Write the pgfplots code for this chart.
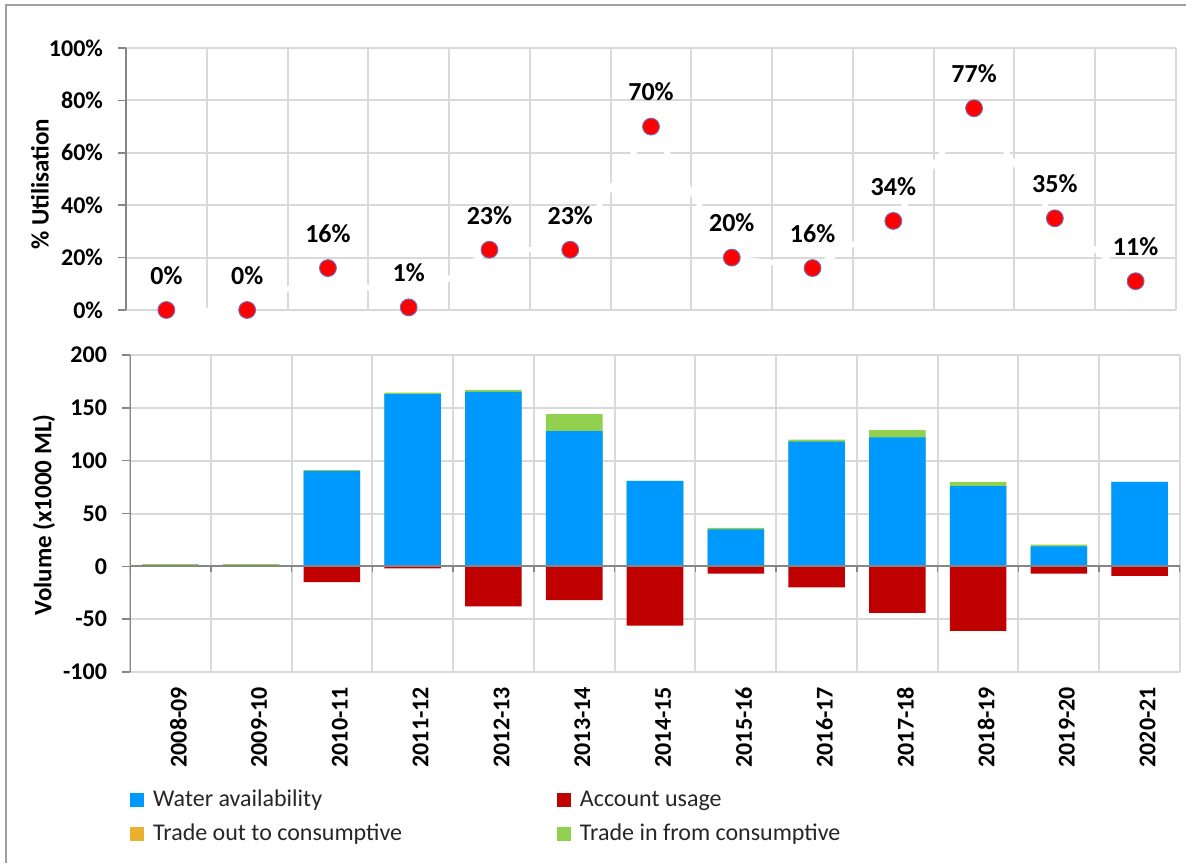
\documentclass[border=0pt]{standalone}
\usepackage{pgfplots}
\pgfplotsset{compat=1.18}
\usepackage{fontspec}
\setmainfont{Carlito}

\definecolor{avail}{HTML}{0099FF}
\definecolor{usage}{HTML}{C00000}
\definecolor{tradeout}{HTML}{EAB12E}
\definecolor{tradein}{HTML}{92D050}
\definecolor{gridgray}{HTML}{D9D9D9}
\definecolor{axisgray}{HTML}{868686}
\definecolor{markedge}{HTML}{7B68B0}

% utilisation (%)
\pgfplotstableread{
x util
0 0
1 0
2 16
3 1
4 23
5 23
6 70
7 20
8 16
9 34
10 77
11 35
12 11
}\utiltable

% volumes (x1000 ML); total = water availability + trade in
\pgfplotstableread{
x avail usage tradeout total
0 0 0 0 2
1 0 0 0 2
2 90 -15 0 91
3 163 -2 0 164.5
4 165 -38 0 167
5 128 -32 0 144
6 81 -56 0 81
7 35 -7 0 36.5
8 118 -20 0 120
9 122 -44 0 129
10 76 -61 0 80
11 19 -7 0 20.5
12 80 -9 0 80
}\voltable

\pgfplotsset{
  panel/.style={
    scale only axis, width=525pt,
    xmin=-0.5, xmax=12.5,
    axis line style={draw=none},
    grid style={draw=gridgray, line width=1pt},
    xmajorgrids, ymajorgrids,
    tick align=outside, ytick pos=left,
    ytick style={draw=axisgray, line width=0.75pt},
    major tick length=4pt,
    xtick style={draw=none},
    yticklabel style={font=\fontsize{12}{14}\selectfont\bfseries, xshift=-4pt},
    every axis y label/.style={rotate=90, anchor=center,
      font=\fontsize{12.5}{15}\selectfont\bfseries},
  },
}

\begin{document}
\begin{tikzpicture}
\path[use as bounding box] (-63pt,24pt) rectangle (530pt,-407.5pt);
\draw[gray!75, line width=0.75pt] (-60pt,-407.5pt) -- (-60pt,21.5pt) -- (530pt,21.5pt);

% top panel: % utilisation
\begin{axis}[panel,
  at={(0pt,0pt)}, anchor=north west, height=131pt,
  ymin=0, ymax=100,
  xtick={-0.5,0.5,...,12.5}, xticklabels={},
  ytick={0,20,...,100},
  yticklabels={0\%,20\%,40\%,60\%,80\%,100\%},
  ylabel={\% Utilisation},
  every axis y label/.append style={at={(axis description cs:-0.082,0.48)}},
  clip=false,
]
\addplot[draw=white, line width=2.5pt, mark=*, mark size=4.2pt,
  mark options={fill=red, draw=markedge, line width=0.5pt},
  point meta=y,
  nodes near coords={\pgfmathprintnumber[assume math mode=true,fixed,precision=0]{\pgfplotspointmeta}\%},
  every node near coord/.append style={font=\fontsize{13}{15}\selectfont\bfseries,
    text=black, anchor=south, inner sep=0pt, yshift=12.5pt},
] table[x=x, y=util] {\utiltable};
\draw[axisgray, line width=0.75pt] (axis cs:-0.5,0) -- (axis cs:-0.5,100);
\end{axis}

% bottom panel: volumes
\begin{axis}[panel,
  at={(2pt,-153.5pt)}, anchor=north west, height=158.5pt,
  ymin=-100, ymax=200,
  xtick={0,...,12},
  xticklabels={2008-09,2009-10,2010-11,2011-12,2012-13,2013-14,2014-15,2015-16,2016-17,2017-18,2018-19,2019-20,2020-21},
  xmajorgrids=false,
  minor xtick={-0.5,0.5,...,12.5}, xminorgrids,
  minor grid style={draw=gridgray, line width=1pt},
  minor tick length=0pt,
  xticklabel style={rotate=90, anchor=east, yshift=-4pt,
    font=\fontsize{12}{14}\selectfont\bfseries},
  ytick={-100,-50,...,200},
  yticklabels={-100,-50,0,50,100,150,200},
  ylabel={Volume (x1000 ML)},
  every axis y label/.append style={at={(axis description cs:-0.082,0.495)}},
  ybar, bar width=0.7, bar shift=0pt,
  legend columns=2,
  legend cell align=left,
  legend style={at={(axis description cs:0.0,-0.371)}, anchor=north west,
    draw=none, fill=none, inner sep=0pt, font=\fontsize{12}{14}\selectfont, text=black!85,
    row sep=7pt, nodes={inner sep=0pt},
    /tikz/every odd column/.append style={column sep=4.5pt},
    /tikz/every even column/.append style={column sep=77.5pt}},
  legend image code/.code={\fill[#1] (0pt,-3.25pt) rectangle (6.5pt,3.25pt);},
]
\addlegendimage{avail}
\addlegendimage{usage}
\addlegendimage{tradeout}
\addlegendimage{tradein}
\addplot[fill=tradein, draw=none, forget plot] table[x=x, y=total] {\voltable};
\addplot[fill=avail, draw=none, forget plot] table[x=x, y=avail] {\voltable};
\addplot[fill=usage, draw=none, forget plot] table[x=x, y=usage] {\voltable};
\addplot[fill=tradeout, draw=none, forget plot] table[x=x, y=tradeout] {\voltable};
\draw[axisgray, line width=0.75pt] (axis cs:-0.5,-100) -- (axis cs:-0.5,200);
\draw[axisgray, line width=1pt] (axis cs:-0.5,0) -- (axis cs:12.5,0);
\pgfplotsinvokeforeach{-0.5,0.5,...,12.5}{
  \draw[axisgray, line width=0.75pt] (axis cs:#1,0) -- ++(0pt,-3pt);
}
\legend{Water availability,Account usage,Trade out to consumptive,Trade in  from consumptive}
\end{axis}
\end{tikzpicture}
\end{document}
